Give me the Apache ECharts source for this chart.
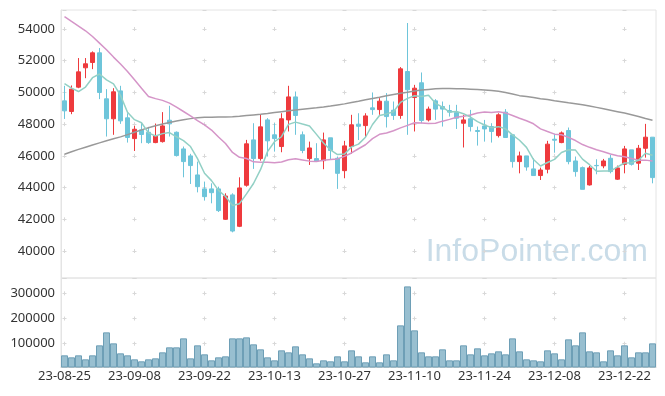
<!DOCTYPE html>
<html>
<head>
<meta charset="utf-8">
<script src="https://cdn.jsdelivr.net/npm/echarts@6/dist/echarts.min.js"></script>
<style>
html,body{margin:0;padding:0;background:#fff;}
#chart{width:665px;height:396px;}
</style>
</head>
<body>
<div id="chart"></div>
<script>
const dates = [
'23-08-25','23-08-28','23-08-29','23-08-30','23-08-31','23-09-01','23-09-04','23-09-05','23-09-06','23-09-07',
'23-09-08','23-09-11','23-09-12','23-09-13','23-09-14','23-09-15','23-09-18','23-09-19','23-09-20','23-09-21',
'23-09-22','23-09-25','23-09-26','23-09-27','23-10-04','23-10-05','23-10-06','23-10-10','23-10-11','23-10-12',
'23-10-13','23-10-16','23-10-17','23-10-18','23-10-19','23-10-20','23-10-23','23-10-24','23-10-25','23-10-26',
'23-10-27','23-10-30','23-10-31','23-11-01','23-11-02','23-11-03','23-11-06','23-11-07','23-11-08','23-11-09',
'23-11-10','23-11-13','23-11-14','23-11-15','23-11-16','23-11-17','23-11-20','23-11-21','23-11-22','23-11-23',
'23-11-24','23-11-27','23-11-28','23-11-29','23-11-30','23-12-01','23-12-04','23-12-05','23-12-06','23-12-07',
'23-12-08','23-12-11','23-12-12','23-12-13','23-12-14','23-12-15','23-12-18','23-12-19','23-12-20','23-12-21',
'23-12-22','23-12-26','23-12-27','23-12-28','24-01-02'];

const openPrices = [49470,48800,50335,51556,51890,52500,49600,48340,50100,48400,
47090,47640,47490,46840,46900,48250,47490,46440,46000,44800,
43920,43920,43920,42000,43540,41560,44150,47010,45830,48270,
47330,46590,48270,49720,47330,45830,45830,45700,47140,45850,
45070,46590,48000,47910,49030,48920,49450,48880,48550,51320,
49680,50610,48270,49470,49110,48860,48730,48060,48340,47600,
47890,47850,47280,48760,47330,45640,46000,45180,44760,45160,
47050,46840,47600,45680,45260,44170,45400,45370,45850,44530,
45470,46380,45540,46480,47180];
const closePrices = [48840,50210,51300,51808,52500,50000,48340,50040,48210,47160,
47680,47350,46840,47260,47890,48020,46020,45640,45390,44060,
43430,43680,42550,43470,41260,43980,46760,45830,47830,46950,
47090,48340,49720,48550,46340,46500,45680,47010,46340,44900,
46630,47960,47870,48520,48920,49450,48480,48550,51490,50170,
50270,48230,48950,48950,48950,48760,48380,48270,47850,47540,
47700,47540,48590,47160,45640,46000,45300,44760,45110,46740,
46990,47450,45640,45010,43890,45240,45380,45680,45010,45240,
46440,45470,46480,47180,44630];
const lowPrices = [48330,48630,50270,50900,51470,49580,47220,47330,48020,46840,
46310,46800,46760,46800,46840,47220,45960,44650,44230,43700,
43180,43010,42460,41960,41180,41510,44060,45180,45700,45960,
46270,46230,47540,47330,46170,45430,45640,45160,45790,43920,
44590,46130,47000,47160,48590,48590,47790,48270,48340,47330,
47540,48060,48170,48270,47850,48480,47700,46530,47540,46650,
46900,46840,47160,47160,45260,44900,45070,44760,44480,44900,
46200,46800,45470,44690,43890,44130,44840,45220,44900,44480,
44900,45390,45110,45890,44270];
const highPrices = [50420,50440,52170,52170,52590,52800,50210,50270,50420,48690,
47890,48100,47830,48040,48760,49160,47540,46590,46130,45640,
44380,44270,44060,43640,43640,44650,47010,48060,48630,48380,
48060,48690,50420,50060,47540,46900,46800,47470,47140,45960,
46950,48590,48690,48690,50000,49640,49960,49430,51600,54380,
50480,51260,49110,49580,49430,49220,49220,48590,48900,47850,
48270,48060,48690,48950,47330,46270,46000,45850,45260,46950,
47400,47540,47790,45960,45330,45370,45790,45810,46060,45390,
46630,46380,46690,48020,47180];
const volumes = [53840,45900,53840,37970,53840,93520,145100,101460,61780,53840,
37970,30040,37970,41940,65750,85590,85590,121300,41940,93520,
57810,34000,45900,49880,121300,121300,125270,97490,77650,45900,
34000,73680,65750,89560,57810,41940,22100,34000,30040,49880,
30040,73680,49880,26070,49880,26070,57810,34000,172880,327640,
153040,65750,49880,49880,77650,34000,34000,93520,57810,81620,
53840,61780,69710,57810,121300,69710,37970,34000,30040,73680,
61780,37970,117330,93520,145100,69710,65750,30040,73680,53840,
93520,45900,65750,65750,101460];
const ma5 = [50550,50270,50060,50340,50932,51164,50790,50538,49818,48750,
48286,48088,47448,47258,47404,47472,47206,46966,46592,45826,
44908,44440,43822,43438,42878,42988,43604,44260,45132,46270,
46892,47208,47986,48130,48008,47890,47358,46816,46374,46086,
46112,46568,46740,47176,47980,48544,48648,48784,49378,49628,
49792,49742,49822,49314,49070,48768,48798,48662,48442,48160,
47948,47780,47844,47706,47326,46986,46538,45772,45362,45582,
45780,46210,46386,46366,45796,45446,45032,45040,45040,45310,
45550,45568,45728,46162,46040];
const ma20 = [54780,54480,54190,53890,53530,53110,52690,52230,51790,51320,
50800,50270,49750,49610,49500,49330,49070,48800,48530,48228,
47957,47631,47193,46777,46215,45914,45835,45624,45605,45595,
45565,45615,45759,45823,45746,45670,45653,45721,45769,45811,
45971,46185,46451,46703,47086,47360,47446,47582,47765,47926,
48085,48079,48041,48061,48191,48304,48439,48502,48578,48710,
48763,48742,48778,48710,48546,48374,48215,48025,47706,47535,
47371,47332,47166,46969,46716,46540,46390,46261,46119,46004,
45941,45837,45732,45733,45682];
const maLong = [46100,46260,46410,46550,46690,46820,46950,47080,47200,47340,
47490,47640,47780,47900,48010,48110,48200,48280,48350,48400,
48430,48440,48450,48460,48470,48500,48540,48580,48620,48670,
48730,48790,48840,48890,48940,48990,49030,49080,49140,49210,
49280,49370,49450,49540,49620,49700,49790,49870,49950,50020,
50090,50150,50190,50230,50250,50250,50240,50230,50210,50190,
50160,50130,50070,50000,49900,49800,49740,49680,49610,49550,
49480,49420,49350,49290,49220,49150,49060,48970,48880,48790,
48700,48590,48480,48360,48250];

const candles = openPrices.map((o, i) => [o, closePrices[i], lowPrices[i], highPrices[i]]);
const FONT = '"Noto Sans", sans-serif';
const plusColor = '#d8d8d8';
const plain = v => String(v);

const chart = echarts.init(document.getElementById('chart'), null, {renderer: 'canvas'});
chart.setOption({
  animation: false,
  backgroundColor: '#ffffff',
  grid: [
    {left: 61, width: 595, top: 10, height: 268, show: true, borderColor: '#e4e4e4', borderWidth: 1},
    {left: 61, width: 595, top: 278, height: 89, show: true, borderColor: '#e4e4e4', borderWidth: 1}
  ],
  xAxis: [
    {type: 'category', gridIndex: 0, data: dates, boundaryGap: true,
     axisLine: {show: false}, axisTick: {show: false}, axisLabel: {show: false},
     splitLine: {show: true, interval: 9, alignWithLabel: true,
       lineStyle: {color: plusColor, width: 1, type: [4, 27.716], dashOffset: 14.686}}},
    {type: 'category', gridIndex: 1, data: dates, boundaryGap: true,
     axisLine: {show: true, lineStyle: {color: '#d0d0d0'}}, axisTick: {show: false},
     axisLabel: {interval: 9, color: '#333', fontSize: 13, margin: 3, fontFamily: FONT},
     splitLine: {show: true, interval: 9, alignWithLabel: true,
       lineStyle: {color: plusColor, width: 1, type: [4, 21.177], dashOffset: 11.817}}}
  ],
  yAxis: [
    {type: 'value', gridIndex: 0, min: 38300, max: 55200, splitNumber: 8,
     axisLine: {show: true, lineStyle: {color: '#e4e4e4'}}, axisTick: {show: false},
     axisLabel: {showMinLabel: false, showMaxLabel: false, formatter: plain, color: '#333', fontSize: 13, margin: 6, fontFamily: FONT},
     splitLine: {show: true, lineStyle: {color: plusColor, width: 1, type: [4, 66], dashOffset: 68.5}}},
    {type: 'value', gridIndex: 1, min: 7500, max: 361000, splitNumber: 3,
     axisLine: {show: true, lineStyle: {color: '#e4e4e4'}}, axisTick: {show: false},
     axisLabel: {showMinLabel: false, showMaxLabel: false, formatter: plain, color: '#333', fontSize: 13, margin: 6, fontFamily: FONT},
     splitLine: {show: true, lineStyle: {color: plusColor, width: 1, type: [4, 66], dashOffset: 68.5}}}
  ],
  graphic: [
    {type: 'text', right: 17, top: 236, z: 0, silent: true,
     style: {text: 'InfoPointer.com', font: '32px "Liberation Sans", sans-serif', fill: '#c9dce8'}}
  ],
  series: [
    {type: 'candlestick', xAxisIndex: 0, yAxisIndex: 0, data: candles, barWidth: 4,
     itemStyle: {color: '#ee3a3d', color0: '#6ec5da', borderColor: '#ee3a3d', borderColor0: '#6ec5da', borderWidth: 1}},
    {type: 'line', xAxisIndex: 0, yAxisIndex: 0, data: maLong, symbol: 'none', smooth: false,
     lineStyle: {color: '#999999', width: 1.5}},
    {type: 'line', xAxisIndex: 0, yAxisIndex: 0, data: ma20, symbol: 'none', smooth: false,
     lineStyle: {color: '#d595c8', width: 1.5}},
    {type: 'line', xAxisIndex: 0, yAxisIndex: 0, data: ma5, symbol: 'none', smooth: false,
     lineStyle: {color: '#92d0c5', width: 1.5}},
    {type: 'bar', xAxisIndex: 1, yAxisIndex: 1, data: volumes, barCategoryGap: '0%',
     itemStyle: {color: '#98bfd0', borderColor: '#6e9fb6', borderWidth: 1}}
  ]
});
</script>
</body>
</html>
